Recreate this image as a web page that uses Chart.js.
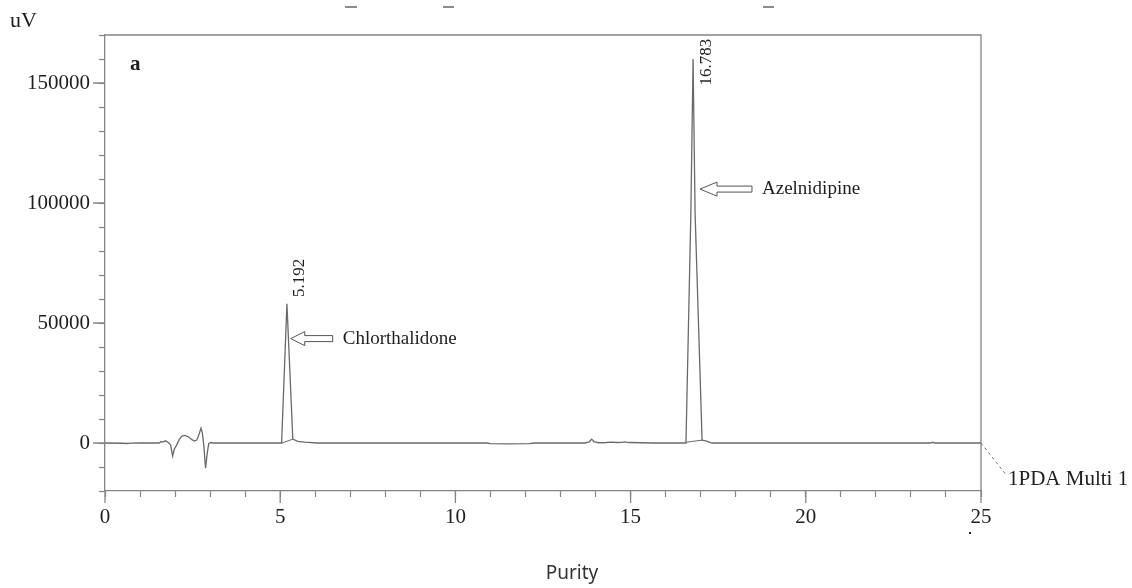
<!DOCTYPE html>
<html>
<head>
<meta charset="utf-8">
<script src="https://cdn.jsdelivr.net/npm/chart.js@4.4.1/dist/chart.umd.min.js"></script>
<style>
  html, body { margin: 0; padding: 0; background: #fff; }
  #wrap { width: 1132px; height: 588px; }
</style>
</head>
<body>
<div id="wrap"><canvas id="c" width="1132" height="588"></canvas></div>
<script>
// retention time (min) and detector signal (uV)
const times = [0, 0.5, 0.6, 0.75, 1.0, 1.55, 1.6, 1.65, 1.72, 1.8, 1.87, 1.93, 1.98, 2.04, 2.12, 2.2, 2.28, 2.38, 2.47, 2.55, 2.62, 2.68, 2.74, 2.78, 2.82, 2.87, 2.92, 2.96, 3.02, 3.1, 4.5,
  5.04, 5.192, 5.36, 5.5, 5.7, 6.05, 8, 10.9, 11.0, 11.5, 12.1, 12.2, 12.3, 13.7, 13.82, 13.89, 13.96, 14.1, 14.3, 14.46, 14.6, 14.75, 14.84, 14.95, 15.3, 15.6,
  16.58, 16.72, 16.783, 16.84, 17.04, 17.15, 17.32, 20, 23.55, 23.62, 23.68, 25];
const signal = [0, -100, -200, -50, 0, 0, 600, 400, 900, 300, -800, -5400, -2500, -1000, 1500, 2900, 3200, 2600, 1500, 800, 1200, 3500, 6200, 4000, -1000, -10500, -4000, -300, 200, 0, 0,
  0, 58000, 1600, 700, 400, 0, 0, 0, -300, -400, -300, -100, 0, 0, 500, 1600, 500, 100, 200, 400, 200, 300, 500, 200, 100, 0,
  0, 96000, 160000, 96000, 1200, 900, 0, 0, 0, 300, 0, 0];

// integration baseline drops under the two peaks
const dropTimes = [5.05, 5.36, null, 16.58, 17.04];
const dropValues = [0, 1600, null, 300, 1200];

const peakTimes = [5.192, 16.783];
const peakLabels = ['5.192', '16.783'];
const peakLabelY = [60800, 149000];

const compounds = ['Chlorthalidone', 'Azelnidipine'];
const arrowTipX = [5.30, 16.98];
const arrowTipY = [43500, 105800];

const serif = "'Liberation Serif', 'Times New Roman', serif";
const axisGray = '#858585';
const traceGray = '#6a6a6a';

const annotations = {
  id: 'annotations',
  afterDraw(chart) {
    const ctx = chart.ctx;
    const a = chart.chartArea;
    const xs = chart.scales.x, ys = chart.scales.y;
    ctx.save();

    // frame (top and right sides)
    ctx.strokeStyle = axisGray;
    ctx.lineWidth = 1.3;
    ctx.beginPath();
    ctx.moveTo(a.left, a.top); ctx.lineTo(a.right, a.top); ctx.lineTo(a.right, a.bottom);
    ctx.stroke();

    // longer major ticks
    ctx.beginPath();
    [0, 5, 10, 15, 20, 25].forEach(v => {
      const px = xs.getPixelForValue(v);
      ctx.moveTo(px, a.bottom); ctx.lineTo(px, a.bottom + 12);
    });
    [0, 50000, 100000, 150000].forEach(v => {
      const py = ys.getPixelForValue(v);
      ctx.moveTo(a.left, py); ctx.lineTo(a.left - 12, py);
    });
    ctx.stroke();

    // cut-off title remnants along the top edge
    ctx.strokeStyle = '#666';
    ctx.lineWidth = 1.5;
    ctx.beginPath();
    [[345, 357], [443, 454], [763, 774]].forEach(([x1, x2]) => { ctx.moveTo(x1, 7); ctx.lineTo(x2, 7); });
    ctx.stroke();

    ctx.fillStyle = '#1e1e1e';
    // unit + panel letter
    ctx.font = '22px ' + serif;
    ctx.textBaseline = 'middle';
    ctx.textAlign = 'left';
    ctx.fillText('uV', 10, 21);
    ctx.font = 'bold 21px ' + serif;
    ctx.fillText('a', 130, 65);

    // retention time labels (rotated)
    ctx.font = '17px ' + serif;
    peakTimes.forEach((t, i) => {
      const px = xs.getPixelForValue(t) + 13;
      const py = ys.getPixelForValue(peakLabelY[i]);
      ctx.save();
      ctx.translate(px, py);
      ctx.rotate(-Math.PI / 2);
      ctx.textAlign = 'left';
      ctx.textBaseline = 'middle';
      ctx.fillText(peakLabels[i], 0, 0);
      ctx.restore();
    });

    // hollow arrows + compound names
    ctx.font = '19px ' + serif;
    ctx.strokeStyle = '#555';
    ctx.lineWidth = 1;
    compounds.forEach((name, i) => {
      const x0 = xs.getPixelForValue(arrowTipX[i]);
      const y0 = ys.getPixelForValue(arrowTipY[i]);
      const len = i === 0 ? 42 : 52, head = i === 0 ? 14 : 17, hh = 7, sh = 3;
      ctx.beginPath();
      ctx.moveTo(x0, y0);
      ctx.lineTo(x0 + head, y0 - hh);
      ctx.lineTo(x0 + head, y0 - sh);
      ctx.lineTo(x0 + len, y0 - sh);
      ctx.lineTo(x0 + len, y0 + sh);
      ctx.lineTo(x0 + head, y0 + sh);
      ctx.lineTo(x0 + head, y0 + hh);
      ctx.closePath();
      ctx.stroke();
      ctx.textAlign = 'left';
      ctx.fillText(name, x0 + len + 10, y0);
    });

    // trace name with dashed leader
    ctx.strokeStyle = '#777';
    ctx.setLineDash([3, 3]);
    ctx.beginPath();
    ctx.moveTo(a.right, ys.getPixelForValue(0));
    ctx.lineTo(a.right + 26, ys.getPixelForValue(0) + 33);
    ctx.stroke();
    ctx.setLineDash([]);
    ctx.font = '21px ' + serif;
    ctx.fillText('1PDA Multi 1', a.right + 27, 479);
    ctx.fillRect(969, 532, 2, 2);

    // x title
    ctx.font = "19px 'Noto Sans', sans-serif";
    ctx.fillStyle = '#333';
    ctx.textAlign = 'center';
    ctx.fillText('Purity', 572, 574);
    ctx.restore();
  }
};

new Chart(document.getElementById('c'), {
  type: 'scatter',
  data: {
    datasets: [{
      data: times.map((t, i) => ({ x: t, y: signal[i] })),
      showLine: true,
      borderColor: traceGray,
      borderWidth: 1.3,
      pointRadius: 0,
      tension: 0
    }, {
      data: dropTimes.map((t, i) => (t === null ? { x: null, y: null } : { x: t, y: dropValues[i] })),
      showLine: true,
      spanGaps: false,
      borderColor: traceGray,
      borderWidth: 1,
      pointRadius: 0
    }]
  },
  options: {
    responsive: false,
    animation: false,
    layout: { padding: { top: 35, right: 151, left: 0, bottom: 0 } },
    plugins: { legend: { display: false }, tooltip: { enabled: false } },
    scales: {
      x: {
        type: 'linear', min: 0, max: 25,
        afterFit: s => { s.height = 97; },
        ticks: {
          stepSize: 1, autoSkip: false, maxRotation: 0, padding: 8,
          color: '#1e1e1e', font: { family: serif, size: 21 },
          callback: v => (v % 5 === 0 ? String(v) : '')
        },
        grid: { drawOnChartArea: false, tickLength: 6, color: axisGray, tickWidth: 1.2 },
        border: { color: axisGray, width: 1.3 }
      },
      y: {
        min: -20000, max: 170000,
        afterFit: s => { s.width = 105; },
        ticks: {
          stepSize: 10000, autoSkip: false, padding: 9,
          color: '#1e1e1e', font: { family: serif, size: 21 },
          callback: v => (v % 50000 === 0 ? String(v) : '')
        },
        grid: { drawOnChartArea: false, tickLength: 6, color: axisGray, tickWidth: 1.2 },
        border: { color: axisGray, width: 1.3 }
      }
    }
  },
  plugins: [annotations]
});
</script>
</body>
</html>
